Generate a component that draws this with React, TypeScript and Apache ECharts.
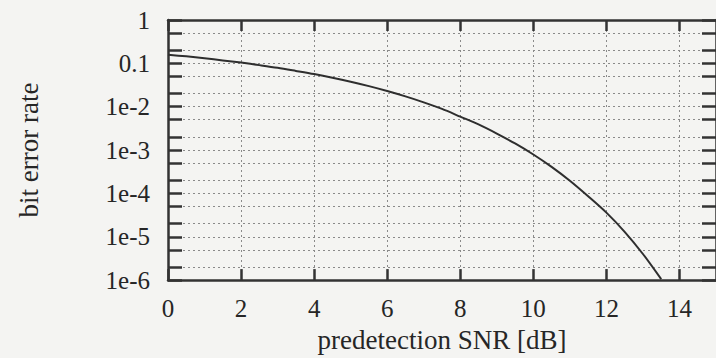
import { useEffect, useRef } from "react";
import * as echarts from "echarts";

// predetection SNR [dB]
const snrDb = [0, 0.5, 1, 1.5, 2, 2.5, 3, 3.5, 4, 4.5, 5, 5.5, 6, 6.5, 7, 7.5, 8, 8.5, 9, 9.5, 10, 10.5, 11, 11.5, 12, 12.5, 13, 13.5];
// bit error rate
const ber = [0.158, 0.145, 0.131, 0.117, 0.104, 0.091, 0.079, 0.067, 0.0565, 0.0466, 0.0377, 0.0298, 0.023, 0.0173, 0.0126, 0.0089, 0.0059, 0.0039, 0.0024, 0.00142, 0.00079, 0.00041, 0.000196, 0.000086, 0.000036, 0.000013, 0.000004, 0.00000105];

const xTicks = [0, 2, 4, 6, 8, 10, 12, 14];
const yDecades = [1, 0.1, 0.01, 0.001, 0.0001, 0.00001, 0.000001];
const yTickLabels = ["1", "0.1", "1e-2", "1e-3", "1e-4", "1e-5", "1e-6"];
const yGridValues = [
  1, 0.5, 0.2, 0.1, 0.05, 0.02, 0.01, 0.005, 0.002, 0.001, 0.0005, 0.0002, 0.0001,
  0.00005, 0.00002, 0.00001, 0.000005, 0.000002, 0.000001,
];

const FONT = "Liberation Serif";
const TEXT = "#262626";
const AXIS = "#333333";
const TICK = "#333333";
const GRID = "#8a8a8a";

const lg = (v: number) => Math.log10(v);

function buildOption() {
  const seriesData = snrDb.map((x, i) => [x, lg(ber[i])]);
  const yLabelFormatter = (v: number) => {
    const idx = yDecades.findIndex((d) => Math.abs(lg(d) - v) < 1e-6);
    return idx >= 0 ? yTickLabels[idx] : "";
  };
  const xBase = {
    type: "value",
    min: 0,
    max: 15,
    axisLine: { show: true, onZero: false, lineStyle: { color: AXIS, width: 2.5 } },
    axisTick: { show: true, inside: true, length: 11, customValues: xTicks, lineStyle: { color: TICK, width: 2.5 } },
  };
  const yBase = {
    type: "value",
    min: -6,
    max: 0,
    axisLine: { show: true, onZero: false, lineStyle: { color: AXIS, width: 2.5 } },
    axisTick: { show: true, inside: true, length: 14, customValues: yGridValues.map(lg), lineStyle: { color: TICK, width: 2.5 } },
  };
  return {
    animation: false,
    backgroundColor: "#f4f4f2",
    grid: { left: 168, right: 0, top: 20, bottom: 75, containLabel: false },
    xAxis: [
      {
        ...xBase,
        position: "bottom",
        name: "predetection SNR [dB]",
        nameLocation: "middle",
        nameGap: 42,
        nameTextStyle: { fontFamily: FONT, fontSize: 27, color: TEXT },
        axisLabel: {
          show: true,
          customValues: xTicks,
          margin: 16,
          fontFamily: FONT,
          fontSize: 25,
          color: TEXT,
        },
        splitLine: { show: true, lineStyle: { color: GRID, width: 1, type: [2, 3] } },
      },
      {
        ...xBase,
        position: "top",
        axisLabel: { show: false },
        splitLine: { show: false },
      },
    ],
    yAxis: [
      {
        ...yBase,
        position: "left",
        name: "bit error rate",
        nameLocation: "middle",
        nameGap: 126,
        nameTextStyle: { fontFamily: FONT, fontSize: 27, color: TEXT },
        axisLabel: {
          show: true,
          customValues: yDecades.map(lg),
          formatter: yLabelFormatter,
          margin: 18,
          fontFamily: FONT,
          fontSize: 25,
          color: TEXT,
        },
        splitLine: { show: true, lineStyle: { color: GRID, width: 1, type: [2, 3] } },
      },
      {
        ...yBase,
        position: "right",
        axisLabel: { show: false },
        splitLine: { show: false },
      },
    ],
    series: [
      {
        type: "line",
        xAxisIndex: 0,
        yAxisIndex: 0,
        data: seriesData,
        showSymbol: false,
        smooth: 0.3,
        clip: true,
        lineStyle: { color: "#2e2e2e", width: 2 },
      },
    ],
  };
}

export default function App() {
  const ref = useRef<HTMLDivElement>(null);
  useEffect(() => {
    if (!ref.current) return;
    const chart = echarts.init(ref.current, null, { renderer: "svg" });
    chart.setOption(buildOption() as any);
    return () => chart.dispose();
  }, []);
  return (
    <div
      ref={ref}
      style={{ position: "fixed", left: 0, top: 0, width: 716, height: 358 }}
    />
  );
}
